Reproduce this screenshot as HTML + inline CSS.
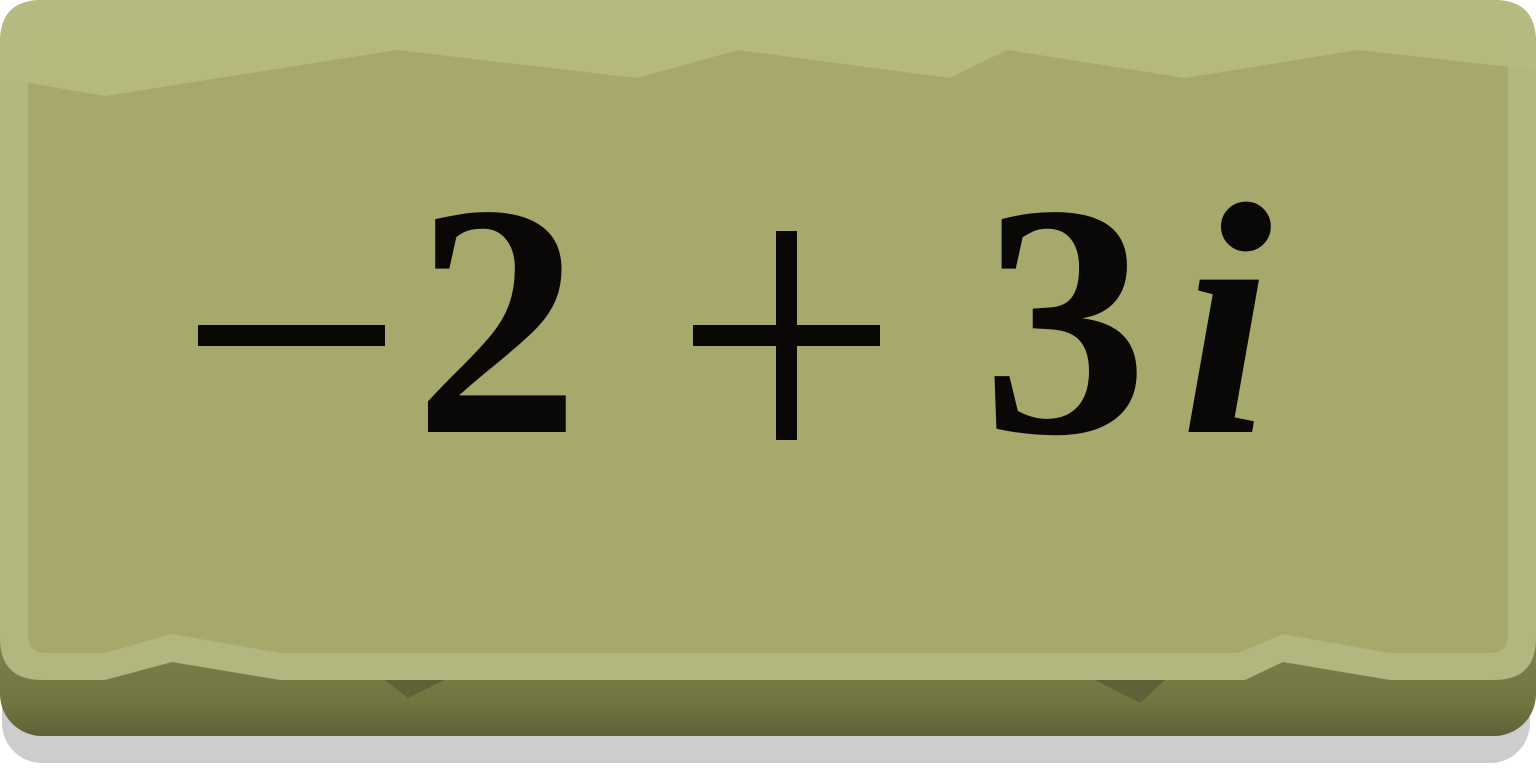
<!DOCTYPE html>
<html><head><meta charset="utf-8"><style>
html,body{margin:0;padding:0;background:#fff;width:1536px;height:768px;overflow:hidden}
svg{display:block}
</style></head><body>
<svg width="1536" height="768" viewBox="0 0 1536 768">
<defs>
<linearGradient id="base" gradientUnits="userSpaceOnUse" x1="0" y1="660" x2="0" y2="736"><stop offset="0" stop-color="#787e49"/><stop offset="0.55" stop-color="#71763f"/><stop offset="1" stop-color="#5e6137"/></linearGradient>
</defs>
<rect x="2" y="40" width="1528" height="723" rx="40" fill="#cdcdcd"/>
<rect x="0" y="0" width="1536" height="736" rx="42" fill="url(#base)"/>
<path d="M385,680 L408,698 L445,680 Z" fill="#5f6239"/>
<path d="M1095,680 L1140,703 L1165,680 Z" fill="#5f6239"/>
<path d="M42,0 H1494 Q1536,0 1536,42 V638 Q1536,680 1494,680 H1390 L1283,662 L1245,680 H280 L172,662 L105,680 H42 Q0,680 0,638 V42 Q0,0 42,0 Z" fill="#b2b67f"/>
<path d="M46,28 H1490 Q1508,28 1508,46 V635 Q1508,653 1490,653 H1390 L1283,634 L1238,653 H280 L172,634 L105,653 H46 Q28,653 28,635 V46 Q28,28 46,28 Z" fill="#a6a96b"/>
<path d="M42,0 H1494 Q1536,0 1536,42 V70 L1358,50 L1185,78 L1007,50 L950,78 L738,50 L637,78 L397,50 L105,96 L0,78 V42 Q0,0 42,0 Z" fill="#b7bb80" opacity="0.92"/>
<g font-family="'Liberation Serif', serif" fill="#0a0707" font-size="332">
<rect x="198" y="325" width="187" height="21" fill="#0a0707"/>
<text x="414" y="432" font-weight="bold">2</text>
<rect x="693" y="325" width="187" height="21" fill="#0a0707"/>
<rect x="776" y="231" width="21" height="209" fill="#0a0707"/>
<text x="982" y="432" font-weight="bold">3</text>
<text x="1180" y="432" font-weight="bold" font-style="italic">i</text>
</g>
</svg>
</body></html>
